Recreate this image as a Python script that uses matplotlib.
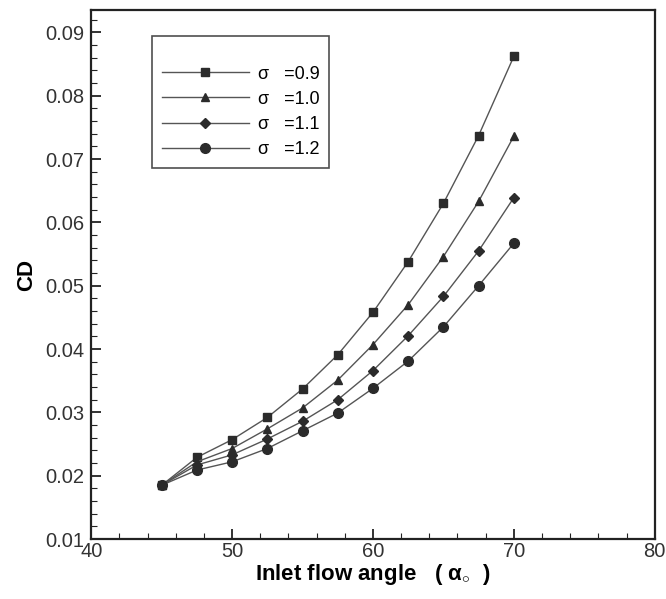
import matplotlib
matplotlib.use("Agg")
import matplotlib.pyplot as plt
from matplotlib.ticker import MultipleLocator

plt.rcParams['font.family'] = ['Liberation Sans', 'DejaVu Sans']
plt.rcParams['mathtext.fontset'] = 'custom'
plt.rcParams['mathtext.rm'] = 'Liberation Sans'
plt.rcParams['mathtext.it'] = 'Liberation Sans'

# inlet flow angle (deg)
angle = [45, 47.5, 50, 52.5, 55, 57.5, 60, 62.5, 65, 67.5, 70]

# drag coefficient for each solidity
cd_09 = [0.0185, 0.0229, 0.0257, 0.0292, 0.0337, 0.0391, 0.0458, 0.0538, 0.0630, 0.0737, 0.0862]
cd_10 = [0.0185, 0.0222, 0.0243, 0.0274, 0.0307, 0.0351, 0.0407, 0.0470, 0.0546, 0.0633, 0.0736]
cd_11 = [0.0185, 0.0217, 0.0233, 0.0258, 0.0286, 0.0320, 0.0366, 0.0421, 0.0483, 0.0555, 0.0639]
cd_12 = [0.0185, 0.0209, 0.0222, 0.0243, 0.0271, 0.0299, 0.0338, 0.0381, 0.0435, 0.0500, 0.0567]

series = [
    (cd_09, 's', 5.5, 'σ   =0.9'),
    (cd_10, '^', 5.5, 'σ   =1.0'),
    (cd_11, 'D', 5.0, 'σ   =1.1'),
    (cd_12, 'o', 7.0, 'σ   =1.2'),
]

fig = plt.figure(figsize=(6.66, 5.99), dpi=100)
ax = fig.add_axes([0.137, 0.100, 0.846, 0.883])

ink = '#2b2b2b'
for vals, mk, ms, lab in series:
    ax.plot(angle, vals, color='#555555', lw=1.0, marker=mk, markersize=ms,
            markerfacecolor=ink, markeredgecolor=ink, label=lab)

ax.set_xlim(40, 80)
ax.set_ylim(0.01, 0.0935)
ax.xaxis.set_major_locator(MultipleLocator(10))
ax.xaxis.set_minor_locator(MultipleLocator(2))
ax.yaxis.set_minor_locator(MultipleLocator(0.002))
ax.set_yticks([0.01, 0.02, 0.03, 0.04, 0.05, 0.06, 0.07, 0.08, 0.09])
ax.set_yticklabels(['0.01', '0.02', '0.03', '0.04', '0.05', '0.06', '0.07', '0.08', '0.09'])
ax.tick_params(which='both', direction='in', labelsize=14.5, color='#222222', labelcolor='#333333')
ax.tick_params(which='major', length=7, width=1.3)
ax.tick_params(which='minor', length=4, width=0.8)
ax.tick_params(axis='x', pad=2)
ax.tick_params(axis='y', pad=5)
for s in ax.spines.values():
    s.set_linewidth(1.6)
    s.set_color('#222222')

ax.set_xlabel('Inlet flow angle   ( α$_{\\circ}$  )', fontsize=16, fontweight='bold', labelpad=1)
ax.set_ylabel('CD', fontsize=16, fontweight='bold', labelpad=6)

leg = ax.legend(loc='upper left', bbox_to_anchor=(0.108, 0.952), fontsize=13,
                handlelength=4.8, handletextpad=0.5, labelspacing=0.45,
                borderpad=0.55, frameon=True, fancybox=False, borderaxespad=0,
                title=' ', title_fontsize=9)
leg.get_frame().set_edgecolor('#222222')
leg.get_frame().set_linewidth(1.2)

fig.savefig('out.png', dpi=100)
